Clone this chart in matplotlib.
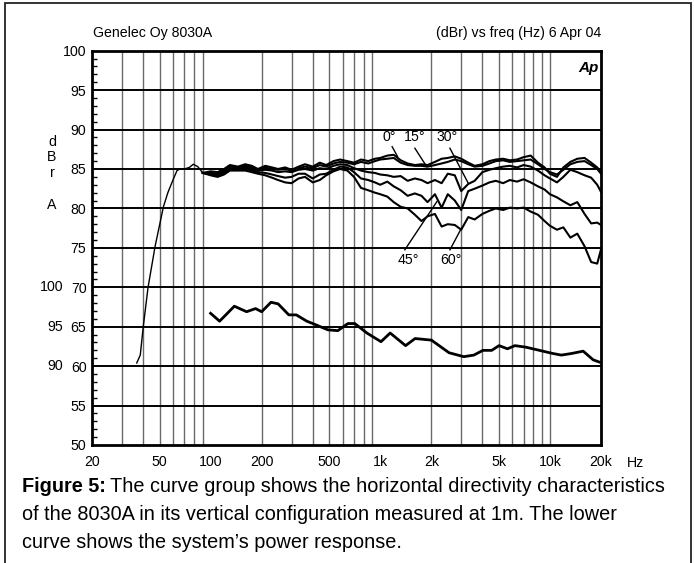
import matplotlib
matplotlib.use("Agg")
import matplotlib.pyplot as plt
import matplotlib.transforms as mtransforms
from matplotlib.patches import Rectangle
from matplotlib.ticker import FixedLocator, NullLocator

plt.rcParams['font.family'] = ['Liberation Sans', 'DejaVu Sans']

# ---------------- data ----------------
lf_freq = [36.7, 38.5, 40.1, 42.8, 47.1, 52.7, 56, 60, 63.4, 66, 70, 75, 79, 84, 90, 95]
lf_db = [60.4, 61.4, 65.0, 70.0, 75.2, 80.2, 82.0, 83.6, 84.8, 85.0, 85.0, 85.2, 85.6, 85.3, 84.5, 84.4]

dir_freq = [90, 100, 110, 120, 130, 145, 160, 175, 190, 210, 230, 250, 275, 300, 330, 360,
            400, 440, 480, 530, 580, 640, 700, 770, 850, 930, 1000, 1100, 1200, 1320, 1450,
            1600, 1750, 1900, 2100, 2300, 2500, 2750, 3000, 3300, 3600, 4000, 4400, 4800,
            5300, 5800, 6400, 7000, 7700, 8500, 9300, 10000, 11000, 12000, 13200, 14500,
            16000, 17500, 19000, 20000]

db_0 = [84.5, 84.7, 84.6, 85.0, 85.5, 85.3, 85.6, 85.4, 85.0, 85.4, 85.2, 85.0, 85.2, 84.9, 85.3, 85.6,
        85.3, 85.8, 85.5, 86.0, 86.2, 86.0, 85.8, 86.2, 86.0, 86.3, 86.4, 86.7, 86.8, 86.1, 85.7,
        85.5, 85.6, 85.5, 85.9, 86.3, 86.4, 86.6, 86.3, 85.8, 85.4, 85.6, 86.0, 86.2,
        86.3, 86.1, 86.2, 86.5, 86.7, 85.8, 85.2, 84.4, 84.0, 85.2, 85.9, 86.3,
        86.4, 85.8, 85.2, 84.6]
db_15 = [84.5, 84.5, 84.4, 84.8, 85.3, 85.2, 85.4, 85.2, 84.9, 85.2, 85.0, 84.9, 85.0, 84.8, 85.1, 85.3,
         85.1, 85.5, 85.3, 85.7, 85.9, 85.8, 85.6, 85.9, 85.7, 86.0, 86.2, 86.3, 86.4, 85.8, 85.5,
         85.4, 85.4, 85.3, 85.5, 85.7, 85.9, 86.2, 86.0, 85.6, 85.3, 85.4, 85.7, 86.0,
         86.1, 85.9, 86.0, 86.1, 86.2, 85.6, 85.0, 84.6, 84.3, 84.9, 85.6, 85.9,
         86.0, 85.5, 85.0, 84.4]
db_30 = [84.5, 84.4, 84.2, 84.6, 85.1, 85.0, 85.2, 85.0, 84.8, 84.9, 84.8, 84.6, 84.7, 84.6, 84.9, 85.0,
         84.8, 85.1, 85.0, 85.4, 85.6, 85.5, 85.1, 84.8, 84.6, 84.5, 84.3, 84.2, 84.0, 84.1, 83.5,
         83.8, 83.6, 83.2, 83.6, 83.2, 84.4, 84.2, 82.2, 83.1, 83.5, 84.6, 84.9, 85.1,
         85.3, 85.4, 85.2, 85.5, 85.3, 84.8, 84.2, 83.8, 83.3, 84.0, 84.9, 84.6,
         84.2, 83.9, 83.0, 82.1]
db_45 = [84.5, 84.3, 84.1, 84.4, 84.9, 84.9, 85.0, 84.8, 84.6, 84.5, 84.3, 84.1, 83.9, 84.0, 84.4, 84.4,
         83.8, 84.3, 84.4, 84.9, 85.3, 85.2, 84.6, 83.8, 83.6, 83.3, 83.0, 83.4, 82.8, 82.3, 81.6,
         81.9, 81.6, 80.8, 81.8, 80.1, 81.8, 81.0, 79.8, 82.2, 82.5, 82.9, 83.3, 83.5,
         83.2, 83.6, 83.4, 83.7, 83.3, 82.8, 82.4, 81.8, 81.4, 80.9, 80.4, 80.8,
         79.3, 78.1, 78.2, 77.9]
db_60 = [84.5, 84.2, 84.0, 84.3, 84.8, 84.8, 84.8, 84.6, 84.4, 84.2, 83.9, 83.6, 83.3, 83.2, 83.8, 84.0,
         83.3, 83.6, 84.2, 84.7, 85.0, 84.8, 84.0, 82.6, 82.3, 82.0, 81.8, 81.5, 80.8, 80.2, 80.0,
         79.2, 78.4, 79.0, 79.3, 77.7, 78.0, 77.9, 77.3, 78.9, 78.6, 79.3, 79.7, 80.0,
         79.8, 80.1, 80.0, 80.1, 79.6, 79.2, 78.4, 77.8, 77.3, 77.6, 76.3, 76.8,
         75.2, 73.2, 73.0, 74.8]

pw_freq = [100, 113, 138, 163, 184, 200, 227, 250, 289, 320, 369, 400, 492, 562, 645, 708,
           834, 1010, 1144, 1410, 1604, 2002, 2543, 3106, 3560, 4027, 4536, 5012, 5620,
           6220, 7230, 8680, 10430, 11670, 13370, 15700, 17980, 19660]
pw_db = [66.7, 65.7, 67.6, 66.9, 67.3, 66.9, 68.1, 67.9, 66.5, 66.5, 65.7, 65.4, 64.6, 64.5, 65.4, 65.4,
         64.2, 63.1, 64.2, 62.6, 63.5, 63.3, 61.7, 61.2, 61.4, 62.0, 62.0, 62.6, 62.2,
         62.6, 62.4, 62.0, 61.6, 61.4, 61.6, 61.9, 60.8, 60.5]

xtick_vals = [20, 50, 100, 200, 500, 1000, 2000, 5000, 10000, 20000]
xtick_labels = ['20', '50', '100', '200', '500', '1k', '2k', '5k', '10k', '20k']
ytick_vals = [50, 55, 60, 65, 70, 75, 80, 85, 90, 95, 100]
pw_axis_vals = [60, 65, 70]
pw_axis_labels = ['90', '95', '100']

FS = 10.2
CAP = 14.35

# ---------------- figure ----------------
W, H = 694, 563
fig = plt.figure(figsize=(W / 100, H / 100), dpi=100)
fig.patches.append(Rectangle((5 / W, -0.01), 686 / W, 1.01 - 3 / H, transform=fig.transFigure,
                             fill=False, edgecolor='#222222', linewidth=1.3))

ax = fig.add_axes([92 / W, 1 - 445 / H, 509 / W, 394.3 / H])
ax.set_xscale('log')
ax.set_xlim(20, 20000)
ax.set_ylim(50, 100)

vgrid = sorted(set(f * d for d in (10, 100, 1000) for f in range(2, 10) if 20 < f * d < 20000) | {10000})
for v in vgrid:
    ax.axvline(v, color='#6a6a6a', linewidth=1.0, zorder=1)
for y in ytick_vals[1:-1]:
    ax.axhline(y, color='black', linewidth=1.4, zorder=1)

ax.plot(lf_freq, lf_db, color='black', linewidth=1.0, zorder=3)
for d in (db_60, db_45, db_30, db_15, db_0):
    ax.plot(dir_freq, d, color='black', linewidth=1.5, zorder=3)
ax.plot(pw_freq, pw_db, color='black', linewidth=2.0, zorder=3)

for s in ax.spines.values():
    s.set_linewidth(2.0)

ax.xaxis.set_major_locator(FixedLocator(xtick_vals))
ax.set_xticklabels(xtick_labels)
ax.xaxis.set_minor_locator(NullLocator())
ax.tick_params(axis='x', which='both', length=0, labelsize=FS, pad=7)
ax.yaxis.set_major_locator(FixedLocator(ytick_vals))
ax.yaxis.set_minor_locator(FixedLocator([v for v in range(50, 101) if v % 5]))
ax.tick_params(axis='y', which='major', length=0, labelsize=FS, pad=4)
ax.tick_params(axis='y', which='minor', direction='in', length=3.5, width=1.0)

# secondary (power response) scale labels
blend = mtransforms.blended_transform_factory(fig.transFigure, ax.transData)
for v, lab in zip(pw_axis_vals, pw_axis_labels):
    fig.text(63 / W, v, lab, transform=blend, ha='right', va='center', fontsize=FS)

# y-axis unit letters
for yy, ch in ((142, 'd'), (157, 'B'), (173, 'r'), (205, 'A')):
    fig.text(52 / W, 1 - yy / H, ch, ha='center', va='center', fontsize=FS)

fig.text(636 / W, 1 - 463 / H, 'Hz', ha='center', va='center', fontsize=FS)
fig.text(93 / W, 1 - 33 / H, 'Genelec Oy 8030A', ha='left', va='center', fontsize=FS)
fig.text(601 / W, 1 - 33 / H, '(dBr) vs freq (Hz) 6 Apr 04', ha='right', va='center', fontsize=FS)
ax.text(0.995, 0.955, 'Ap', transform=ax.transAxes, ha='right', va='center', fontsize=11,
        fontweight='bold', style='italic')

# curve labels with leader lines
ann = [('0°', 1126, 89.06, (1175, 87.83), (1265, 86.57)),
       ('15°', 1600, 89.06, (1600, 87.63), (1878, 85.3)),
       ('30°', 2466, 89.06, (2574, 87.63), (3300, 83.2)),
       ('45°', 1456, 73.47, (1396, 74.75), (2156, 80.86)),
       ('60°', 2610, 73.47, (2574, 74.75), (3010, 77.5))]
for lab, tx, ty, p0, p1 in ann:
    ax.text(tx, ty, lab, ha='center', va='center', fontsize=FS, zorder=5)
    ax.plot([p0[0], p1[0]], [p0[1], p1[1]], color='black', linewidth=1.0, zorder=4)

# caption
cap1 = fig.text(22 / W, 1 - 487 / H, 'Figure 5:', fontsize=CAP, ha='left', va='center', fontweight='bold')
fig.canvas.draw()
bb = cap1.get_window_extent()
fig.text((bb.x1 + 4) / W, 1 - 487 / H, 'The curve group shows the horizontal directivity characteristics',
         fontsize=CAP, ha='left', va='center')
fig.text(22 / W, 1 - 515 / H, 'of the 8030A in its vertical configuration measured at 1m. The lower',
         fontsize=CAP, ha='left', va='center')
fig.text(22 / W, 1 - 542 / H, 'curve shows the system\u2019s power response.',
         fontsize=CAP, ha='left', va='center')

fig.savefig('out.png', dpi=100)
